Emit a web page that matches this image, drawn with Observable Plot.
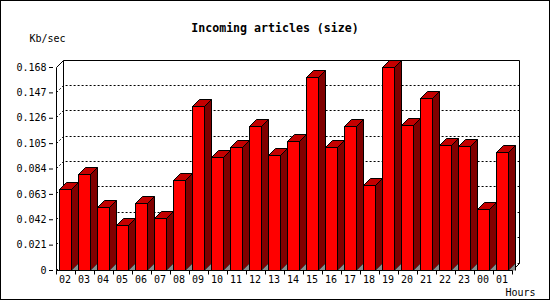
<!DOCTYPE html>
<html><head><meta charset="utf-8">
<script src="https://cdn.jsdelivr.net/npm/d3@7"></script>
<script src="https://cdn.jsdelivr.net/npm/@observablehq/plot@0.6"></script>
<style>body{margin:0;background:#fff}</style>
</head><body><div id="chart"></div>
<script>
const hours = ["02","03","04","05","06","07","08","09","10","11","12","13","14","15","16","17","18","19","20","21","22","23","00","01"];
const values = [0.067,0.079,0.052,0.037,0.055,0.043,0.074,0.135,0.093,0.101,0.119,0.095,0.106,0.159,0.101,0.119,0.070,0.168,0.120,0.142,0.103,0.102,0.050,0.097];
const yTicks = [0,0.021,0.042,0.063,0.084,0.105,0.126,0.147,0.168];
const yTickLabels = ["0","0.021","0.042","0.063","0.084","0.105","0.126","0.147","0.168"];
const title = "Incoming articles (size)";
const yLabel = "Kb/sec";
const xLabel = "Hours";

const data = hours.map((h, i) => ({hour: h, value: values[i]}));
const D = 7;
const px = v => Math.floor(v) + 0.5;
const NS = "http://www.w3.org/2000/svg";
function el(tag, attrs) {
  const e = document.createElementNS(NS, tag);
  for (const k in attrs) e.setAttribute(k, attrs[k]);
  return e;
}
function bandw(x, dims) {
  return x.bandwidth ? x.bandwidth() : (dims.width - dims.marginLeft - dims.marginRight) / hours.length;
}

function walls(index, scales, vals, dims) {
  const g = el("g", {fill: "none", stroke: "black", "stroke-width": 1});
  const x = scales.x, y = scales.y, bw = bandw(x, dims);
  const xl = px(x(hours[0])), xr = px(x(hours[hours.length - 1]) + bw);
  const yb = px(y(0)), yt = px(y(yTicks[yTicks.length - 1]));
  g.appendChild(el("rect", {x: 0.5, y: 0.5, width: 549, height: 299}));
  for (const t of yTicks.slice(0, -1)) {
    const yy = px(y(t));
    g.appendChild(el("path", {d: `M${xl},${yy}L${xl + D},${yy - D}H${xr + D}`, "stroke-dasharray": "2,2"}));
  }
  g.appendChild(el("path", {d: `M${xl},${yt}L${xl + D},${yt - D}H${xr + D}V${yb - D}L${xr},${yb}`}));
  g.appendChild(el("path", {d: `M${xl + D},${yt - D}V${yb - D}`}));
  return g;
}

function axisLines(index, scales, vals, dims) {
  const g = el("g", {fill: "none", stroke: "black", "stroke-width": 1});
  const x = scales.x, y = scales.y, bw = bandw(x, dims);
  const xl = px(x(hours[0])), xr = px(x(hours[hours.length - 1]) + bw);
  const yb = px(y(0)), yt = px(y(yTicks[yTicks.length - 1]));
  g.appendChild(el("path", {d: `M${xl},${yt}V${yb}H${xr}`}));
  let d = "";
  for (const h of hours) d += `M${px(x(h))},${yb}v4`;
  d += `M${xr},${yb}v4`;
  g.appendChild(el("path", {d}));
  return g;
}

function bars3d(index, scales, vals, dims) {
  const g = el("g", {stroke: "black", "stroke-width": 1, "stroke-linejoin": "miter"});
  const x = scales.x, y = scales.y;
  const y0 = px(y(0));
  for (const d of data) {
    const bx = x(d.hour);
    const x1 = px(bx + 3), x2 = x1 + 12;
    const yt = px(y(d.value));
    g.appendChild(el("path", {d: `M${x2},${yt}L${x2 + D},${yt - D}V${y0 - D}L${x2},${y0}Z`, fill: "#800000"}));
    g.appendChild(el("path", {d: `M${x2},${y0}L${x2 + D},${y0 - D}V${y0}Z`, fill: "#8c8c8c", stroke: "none"}));
    g.appendChild(el("path", {d: `M${x2 + D},${y0 - D}V${y0}`, fill: "none"}));
    g.appendChild(el("path", {d: `M${x1},${yt}L${x1 + D},${yt - D}H${x2 + D}L${x2},${yt}Z`, fill: "#c40000"}));
    g.appendChild(el("rect", {x: x1, y: yt, width: x2 - x1, height: y0 - yt, fill: "#ff0000"}));
  }
  return g;
}

const chart = Plot.plot({
  width: 550, height: 300,
  marginLeft: 53, marginRight: 36, marginTop: 67, marginBottom: 30,
  style: {fontFamily: "'DejaVu Sans Mono', monospace", fontSize: "10px", background: "white", color: "black"},
  x: {type: "band", domain: hours, padding: 0, label: null},
  y: {domain: [0, 0.168], label: null},
  marks: [
    walls,
    bars3d,
    axisLines,
    Plot.axisY(yTicks, {tickSize: 4, tickPadding: 3, tickFormat: (d, i) => yTickLabels[i], label: null, fontSize: 10}),
    Plot.axisX({tickSize: 0, tickPadding: 5, label: null, dx: -1, fontSize: 10}),
    Plot.text([title], {text: d => d, frameAnchor: "top", dx: -9, dy: -39, lineAnchor: "middle", fontWeight: "bold", fontSize: 11.6}),
    Plot.text([yLabel], {text: d => d, frameAnchor: "top-left", textAnchor: "start", dx: -24, dy: -29, lineAnchor: "middle", fontSize: 10}),
    Plot.text([xLabel], {text: d => d, frameAnchor: "bottom-right", textAnchor: "start", dx: -9, dy: 22, lineAnchor: "middle", fontSize: 10})
  ]
});
document.getElementById("chart").appendChild(chart);
</script>
</body></html>
